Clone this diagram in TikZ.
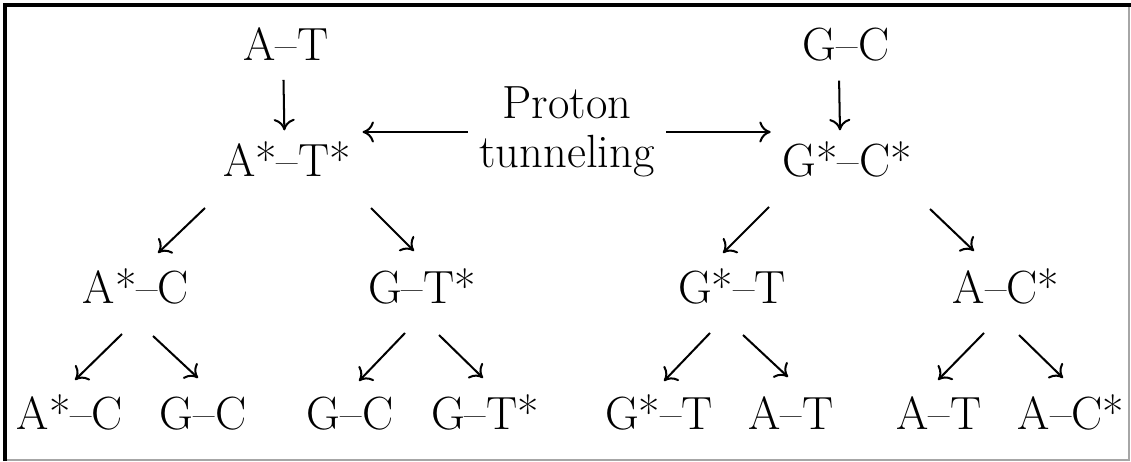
\documentclass[tikz,border=0pt]{standalone}
\usepackage{fontspec}
\usepackage{tikz}
\usetikzlibrary{arrows.meta}
\definecolor{edge}{HTML}{A6A6A6}
\tikzset{
  >={To[length=6.5pt,width=12pt]},
  pair/.style={font=\fontsize{26.5}{28}\selectfont,inner sep=6.5pt,anchor=base},
  lab/.style={font=\fontsize{26.5}{27.8}\selectfont,inner sep=6.5pt,align=center},
  arr/.style={->,line width=1.15pt},
}
\begin{document}
\begin{tikzpicture}[x=0.02cm,y=-0.02cm]
\useasboundingbox (0,0) rectangle (1131,462);
% frame
\draw[edge,line width=0.6pt] (1129,3) -- (1129,460) -- (4,460);
\draw[line width=2.2pt] (5,461) -- (5,5) -- (1131,5);
% tautomers
\node[pair] (at) at (286,61) {A--T};
\node[pair] (gc) at (846,61) {G--C};
\node[pair] (ats) at (287,177) {A*--T*};
\node[pair] (gcs) at (847,177) {G*--C*};
\node[lab] (pt) at (567,132) {Proton\\tunneling};
% first mispairs
\node[pair] (asc) at (136,303) {A*--C};
\node[pair] (gts) at (422,303) {G--T*};
\node[pair] (gst) at (732,303) {G*--T};
\node[pair] (acs) at (1006,303) {A--C*};
% after replication
\node[pair] (asc2) at (70,429) {A*--C};
\node[pair] (gc2) at (203,429) {G--C};
\node[pair] (gc3) at (350,429) {G--C};
\node[pair] (gts2) at (485,429) {G--T*};
\node[pair] (gst2) at (659,429) {G*--T};
\node[pair] (at2) at (791,429) {A--T};
\node[pair] (at3) at (939,429) {A--T};
\node[pair] (acs2) at (1071,429) {A--C*};
\draw[arr,shorten <=4pt] ([xshift=-1.5pt]at.south) -- ([xshift=-1.5pt]ats.north);
\draw[arr,shorten <=4pt] ([xshift=-4pt]gc.south) -- ([xshift=-4pt]gcs.north);
\draw[arr] (pt.west) -- (pt.west -| ats.east);
\draw[arr] (pt.east) -- (pt.east -| gcs.west);
\draw[arr] ([shift={(-82,31)}]ats.base) -- ([shift={(22,-50)}]asc.base);
\draw[arr] ([shift={(84,31)}]ats.base) -- ([shift={(-8,-52)}]gts.base);
\draw[arr] ([shift={(-78,30)}]gcs.base) -- ([shift={(-9,-50)}]gst.base);
\draw[arr] ([shift={(83,32)}]gcs.base) -- ([shift={(-32,-52)}]acs.base);
\draw[arr] ([shift={(-14,31)}]asc.base) -- ([shift={(5,-49)}]asc2.base);
\draw[arr] ([shift={(17,33)}]asc.base) -- ([shift={(-5,-51)}]gc2.base);
\draw[arr] ([shift={(-17,30)}]gts.base) -- ([shift={(9,-48)}]gc3.base);
\draw[arr] ([shift={(17,32)}]gts.base) -- ([shift={(-2,-51)}]gts2.base);
\draw[arr] ([shift={(-22,30)}]gst.base) -- ([shift={(5,-48)}]gst2.base);
\draw[arr] ([shift={(11,32)}]gst.base) -- ([shift={(-3,-52)}]at2.base);
\draw[arr] ([shift={(-22,30)}]acs.base) -- ([shift={(-1,-49)}]at3.base);
\draw[arr] ([shift={(13,32)}]acs.base) -- ([shift={(-8,-51)}]acs2.base);
\end{tikzpicture}
\end{document}
